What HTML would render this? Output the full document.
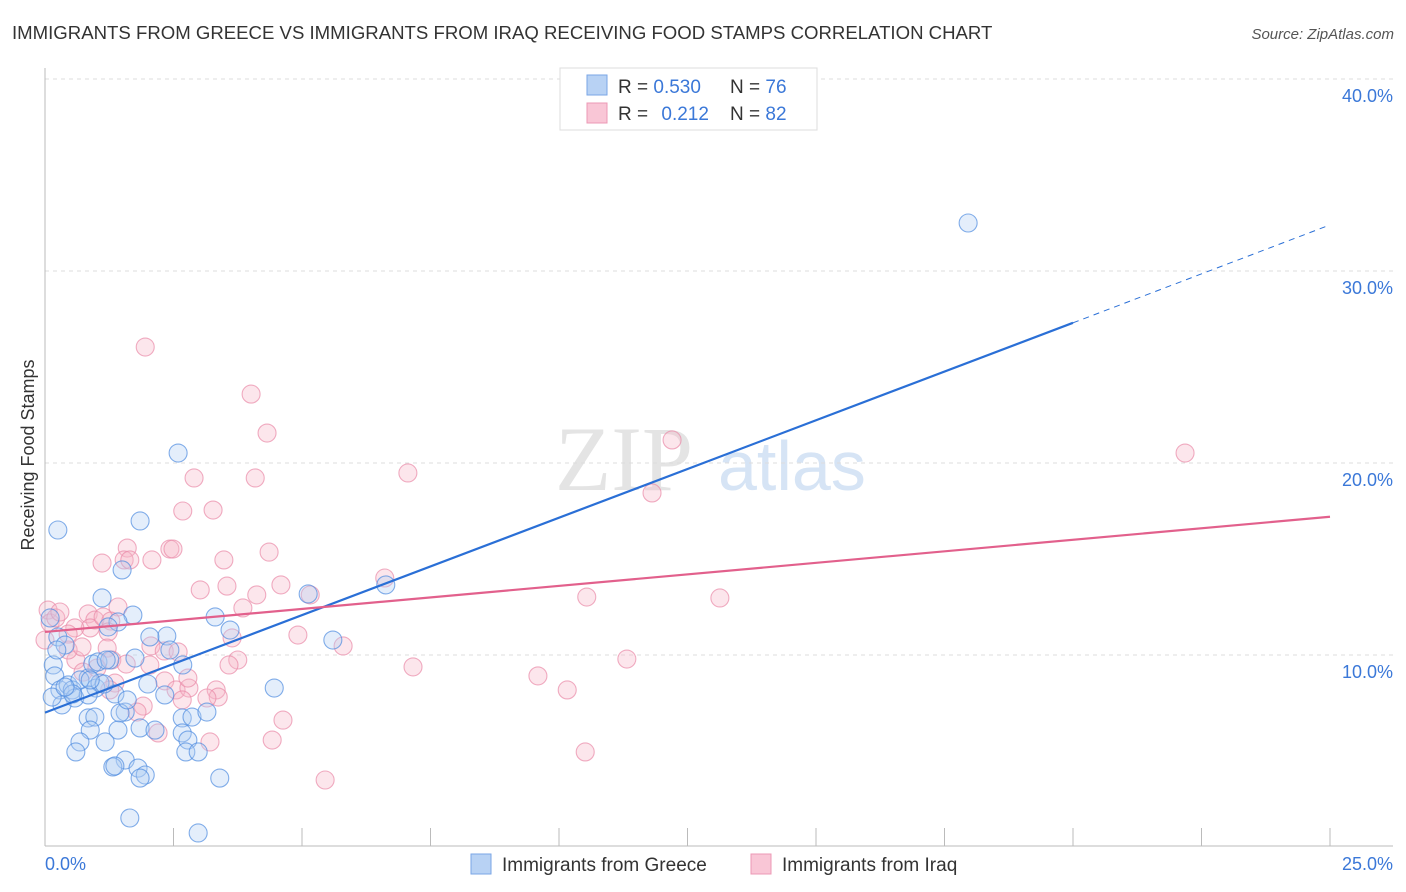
<!DOCTYPE html>
<html><head><meta charset="utf-8"><style>
body{margin:0;background:#fff;font-family:"Liberation Sans",sans-serif;}
#wrap{position:relative;width:1406px;height:892px;overflow:hidden}
</style></head><body>
<div id="wrap">
<svg id="svg" width="1406" height="892" xmlns="http://www.w3.org/2000/svg">
<text x="12" y="39" font-size="18.6" fill="#333">IMMIGRANTS FROM GREECE VS IMMIGRANTS FROM IRAQ RECEIVING FOOD STAMPS CORRELATION CHART</text>
<text x="1394" y="39" font-size="15" fill="#555" font-style="italic" text-anchor="end">Source: ZipAtlas.com</text>
<text x="555" y="490" font-size="92" fill="#e4e4e4" font-family="Liberation Serif,serif">ZIP</text>
<text x="718" y="490" font-size="70" fill="#d6e4f5">atlas</text>
<g id="grid"></g>
<g id="pts"></g>
<g id="lines"></g>
<text transform="translate(34,455) rotate(-90)" font-size="18" fill="#333" text-anchor="middle">Receiving Food Stamps</text>
<text x="45" y="870" font-size="18" fill="#3b78d8">0.0%</text>
<text x="1393" y="870" font-size="18" fill="#3b78d8" text-anchor="end">25.0%</text>
<g>
<rect x="560" y="68" width="257" height="62" fill="#fff" stroke="#ddd"/>
<rect x="587" y="75" width="20" height="20" fill="#b8d2f4" stroke="#7aa6e6"/>
<rect x="587" y="103" width="20" height="20" fill="#f9c6d6" stroke="#ec98b5"/>
<text x="618" y="93" font-size="19" fill="#333">R = <tspan fill="#3b78d8">0.530</tspan></text>
<text x="730" y="93" font-size="19" fill="#333">N = <tspan fill="#3b78d8">76</tspan></text>
<text x="618" y="120" font-size="19" fill="#333">R = <tspan fill="#3b78d8" dx="8">0.212</tspan></text>
<text x="730" y="120" font-size="19" fill="#333">N = <tspan fill="#3b78d8">82</tspan></text>
</g>
<g>
<rect x="471" y="854" width="20" height="20" fill="#b8d2f4" stroke="#7aa6e6"/>
<text x="502" y="871" font-size="19" fill="#333">Immigrants from Greece</text>
</g>
<g>
<rect x="751" y="854" width="20" height="20" fill="#f9c6d6" stroke="#ec98b5"/>
<text x="782" y="871" font-size="19" fill="#333">Immigrants from Iraq</text>
</g>
</svg>
</div>
<script>
// pixel-read points converted to data (x %, y %)
const bluePx=[[968,223],[58,530],[178,453],[140,521],[122,570],[102,598],[133,615],[118,622],[108,627],[167,636],[170,650],[215,617],[230,630],[308,594],[386,585],[333,640],[274,688],[58,637],[65,645],[53,665],[55,676],[60,690],[68,685],[72,690],[75,698],[62,705],[88,678],[93,664],[98,662],[96,688],[100,683],[110,660],[115,694],[135,658],[148,684],[165,695],[183,665],[125,712],[120,713],[88,718],[95,717],[90,730],[118,730],[140,728],[155,730],[182,718],[192,717],[207,712],[182,733],[188,740],[105,742],[80,742],[76,752],[186,752],[198,752],[125,760],[113,767],[115,766],[138,768],[145,775],[140,778],[220,778],[130,818],[198,833],[88,695],[104,684],[80,680],[127,700],[52,697],[150,637],[106,660],[90,680],[73,694],[65,687],[57,650],[50,618]];
const pinkPx=[[145,347],[251,394],[267,433],[672,440],[408,473],[194,478],[255,478],[1185,453],[652,493],[183,511],[213,510],[170,549],[173,549],[127,548],[102,563],[124,560],[130,560],[152,560],[224,560],[269,552],[227,586],[200,590],[257,595],[281,585],[310,595],[385,578],[587,597],[720,598],[243,608],[88,614],[118,607],[95,620],[90,628],[75,628],[68,634],[48,610],[50,623],[45,640],[56,618],[60,612],[103,617],[111,621],[108,632],[107,648],[112,660],[76,660],[68,650],[82,647],[151,646],[164,651],[232,638],[298,635],[343,646],[178,652],[150,665],[238,660],[229,665],[413,667],[627,659],[83,672],[115,683],[110,690],[165,681],[176,690],[189,688],[182,700],[216,690],[218,697],[207,698],[158,733],[143,706],[137,712],[283,720],[272,740],[210,742],[538,676],[567,690],[585,752],[325,780],[97,668],[126,664],[188,678]];
const greeceX=bluePx.map(p=>+((p[0]-45)/51.4).toFixed(2));
const greeceY=bluePx.map(p=>+((847-p[1])/19.2).toFixed(2));
const iraqX=pinkPx.map(p=>+((p[0]-45)/51.4).toFixed(2));
const iraqY=pinkPx.map(p=>+((847-p[1])/19.2).toFixed(2));
const yTicks=[10,20,30,40];
const yTickLabels=["10.0%","20.0%","30.0%","40.0%"];
const xTicks=[0,2.5,5,7.5,10,12.5,15,17.5,20,22.5,25];
const greeceTrend=[[0,7.0],[20,27.3],[25,32.4]];
const iraqTrend=[[0,11.2],[25,17.2]];
</script>
<script>
const NS="http://www.w3.org/2000/svg";
const sx=v=>45+v*51.4, sy=v=>847-v*19.2;
function mk(t,a,p){const e=document.createElementNS(NS,t);for(const k in a)e.setAttribute(k,a[k]);p.appendChild(e);return e;}
const grid=document.getElementById('grid');
yTicks.forEach((v,i)=>{
 const l=mk('line',{x1:45,x2:1393,y1:sy(v),y2:sy(v),stroke:'#ddd','stroke-dasharray':'4,4'},grid);
 
 
 const t=mk('text',{x:1393,y:sy(v)+23,'font-size':18,fill:'#3b78d8','text-anchor':'end'},grid);
 t.textContent=yTickLabels[i];
 
 
});
const ax=mk('line',{x1:45,x2:1393,y1:846,y2:846,stroke:'#bbb'},grid);


const ay=mk('line',{x1:45,x2:45,y1:68,y2:846,stroke:'#bbb'},grid);


xTicks.forEach(v=>{
 const l=mk('line',{x1:sx(v),x2:sx(v),y1:828,y2:846,stroke:'#bbb'},grid);
 
 
});
const pts=document.getElementById('pts');
function dots(X,Y,fill,stroke,name){X.forEach((x,i)=>{
 const c=mk('circle',{cx:sx(x),cy:sy(Y[i]),r:9,fill:fill,'fill-opacity':0.35,stroke:stroke,'stroke-opacity':0.7,'stroke-width':1.1},pts);
 
 
});}
dots(iraqX,iraqY,'#f7b6c9','#e98aa8','iraq-point');
dots(greeceX,greeceY,'#b3cff3','#4f8ce0','greece-point');
const lines=document.getElementById('lines');
const g1=mk('line',{x1:sx(greeceTrend[0][0]),y1:sy(greeceTrend[0][1]),x2:sx(greeceTrend[1][0]),y2:sy(greeceTrend[1][1]),stroke:'#2a6fd6','stroke-width':2.2},lines);


const g2=mk('line',{x1:sx(greeceTrend[1][0]),y1:sy(greeceTrend[1][1]),x2:sx(greeceTrend[2][0]),y2:sy(greeceTrend[2][1]),stroke:'#2a6fd6','stroke-width':1,'stroke-dasharray':'6,5'},lines);


const p1=mk('line',{x1:sx(iraqTrend[0][0]),y1:sy(iraqTrend[0][1]),x2:sx(iraqTrend[1][0]),y2:sy(iraqTrend[1][1]),stroke:'#e2608c','stroke-width':2.2},lines);


</script>
</body></html>
